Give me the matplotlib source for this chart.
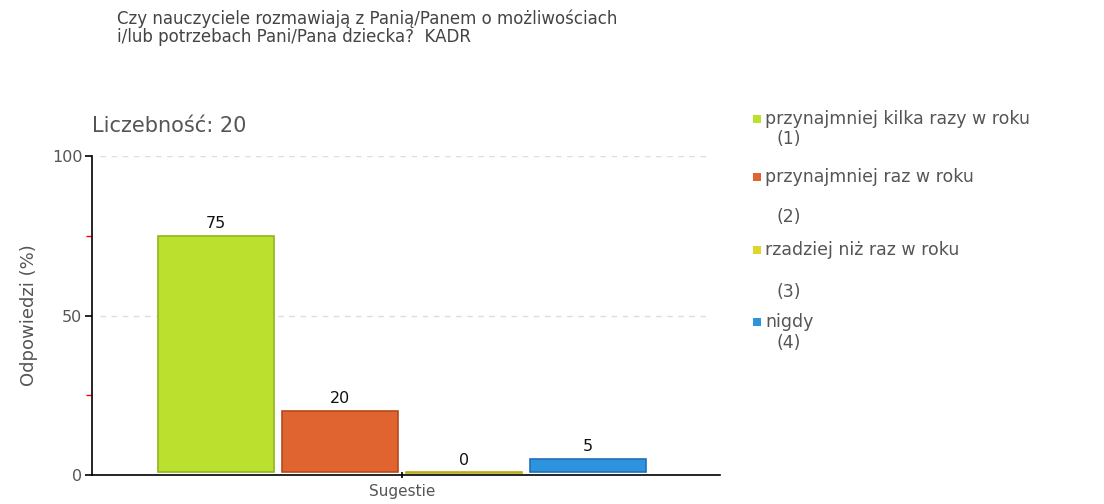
import matplotlib
matplotlib.use("Agg")
import matplotlib.pyplot as plt
from matplotlib.ticker import FixedLocator

plt.rcParams['font.family'] = ['DejaVu Sans']

title_lines = "Czy nauczyciele rozmawiają z Panią/Panem o możliwościach\ni/lub potrzebach Pani/Pana dziecka?  KADR"
subtitle = "Liczebność: 20"
category = "Sugestie"
series_names = ["przynajmniej kilka razy w roku", "przynajmniej raz w roku",
                "rzadziej niż raz w roku", "nigdy"]
series_codes = ["(1)", "(2)", "(3)", "(4)"]
values = [75, 20, 0, 5]
colors = ["#BBE02E", "#DF6430", "#E0D62B", "#2E93DF"]
edges = ["#8FB51C", "#B8491A", "#B9AE16", "#1F70B5"]
y_ticks = [0, 50, 100]
y_label = "Odpowiedzi (%)"

fig = plt.figure(figsize=(11.04, 5.04), dpi=100)
ax = fig.add_axes([92/1104, 1-475/504, (720-92)/1104, (475-156)/504])

offsets = [-1.5, -0.5, 0.5, 1.5]
width = 0.935
for off, v, c, e in zip(offsets, values, colors, edges):
    h = max(v, 0.6)
    ax.bar(off, h - 1.0, bottom=1.0, width=width, color=c, edgecolor=e, linewidth=1.2, zorder=3)
    ax.text(off, h + 1.5, str(v), ha='center', va='bottom', fontsize=11.5, color='#111111')

ax.set_xlim(-2.5, 2.565)
ax.set_ylim(0, 100)
ax.set_xticks([0])
ax.set_xticklabels([category], fontsize=11, color='#555555')
ax.set_yticks(y_ticks)
ax.set_yticklabels([str(t) for t in y_ticks], fontsize=11.5, color='#555555')
ax.yaxis.set_minor_locator(FixedLocator([25, 75]))
ax.tick_params(axis='y', which='minor', length=4, color='red', width=1)
ax.tick_params(axis='y', which='major', length=5, color='black', width=1.2, pad=2)
ax.tick_params(axis='x', which='major', length=5, direction='inout', color='black', width=1.2, pad=4)
for t in [50, 100]:
    ax.axhline(t, xmin=0.013, xmax=0.98, color='#DDDDDD', linestyle=(0, (4, 4)), linewidth=1, zorder=1)
for s in ['top', 'right']:
    ax.spines[s].set_visible(False)
ax.spines['left'].set_linewidth(1.2)
ax.spines['bottom'].set_linewidth(1.2)
ax.set_ylabel(y_label, fontsize=13, color='#555555', labelpad=10)

fig.text(117/1104, 1-9/504, title_lines, ha='left', va='top', fontsize=12, color='#444444', linespacing=1.0)
fig.text(92/1104, 1-126/504, subtitle, ha='left', va='center', fontsize=15, color='#555555')

# legend
leg_y = [119, 177, 250, 322]
code_y = [139, 217, 292, 343]
for name, code, c, ly, cy in zip(series_names, series_codes, colors, leg_y, code_y):
    fig.patches.append(plt.Rectangle((753/1104, 1-(ly+4)/504), 8/1104, 8/504,
                                     transform=fig.transFigure, facecolor=c, edgecolor='none'))
    fig.text(765/1104, 1-ly/504, name, ha='left', va='center', fontsize=12.5, color='#555555')
    fig.text(777/1104, 1-cy/504, code, ha='left', va='center', fontsize=12.5, color='#555555')

fig.savefig("out.png", dpi=100)
